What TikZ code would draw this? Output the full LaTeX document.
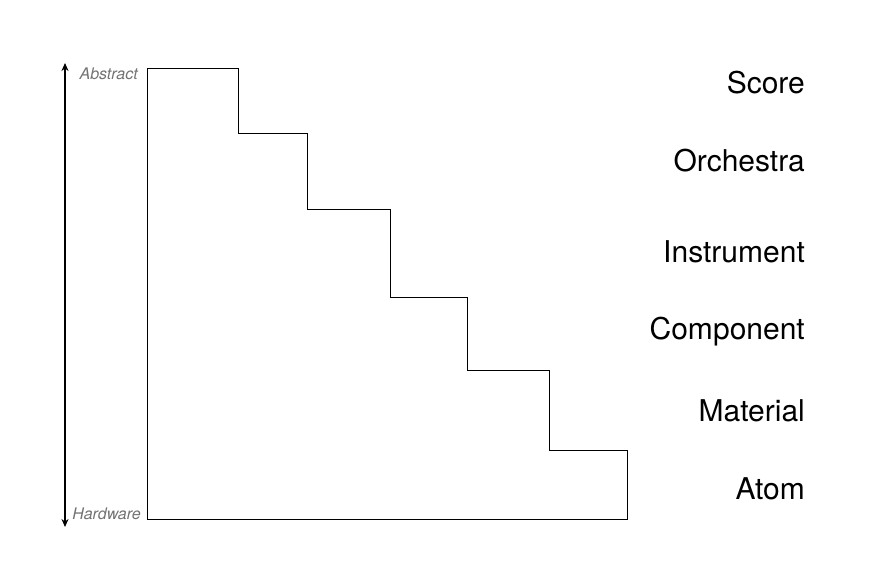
\documentclass[tikz,border=0pt]{standalone}
\usepackage{fontspec}
\setmainfont{TeX Gyre Heros}
\usetikzlibrary{arrows.meta}
\begin{document}
\begin{tikzpicture}[x=1pt,y=-1pt,
  level/.style={anchor=base east,inner sep=0pt,font=\fontsize{30}{30}\selectfont},
  axislabel/.style={anchor=base east,text=black!55,font=\itshape\fontsize{16}{16}\selectfont,inner sep=0pt},
  stairs/.style={draw=black,line width=0.9pt,line join=miter}]
\useasboundingbox (0,0) rectangle (869,562);
% staircase of abstraction levels
\draw[stairs] (147,68) -- (238,68) -- (238,133) -- (307,133) -- (307,209)
  -- (390,209) -- (390,297) -- (467,297) -- (467,370) -- (549,370)
  -- (549,450) -- (627,450) -- (627,519) -- (147,519) -- cycle;
% vertical axis
\coordinate (top) at (65,63);
\coordinate (bot) at (65,527);
\draw[line width=1.8pt,{Stealth[length=8pt,width=7pt]}-{Stealth[length=8pt,width=7pt]}] (top) -- (bot);
\node[axislabel] (abs) at (138,79) {Abstract};
\node[axislabel] (hw) at (141,519) {Hardware};
% level names
\node[level] (score) at (805,93) {Score};
\node[level] (orch) at (805,171) {Orchestra};
\node[level] (inst) at (805,262) {Instrument};
\node[level] (comp) at (805,339) {Component};
\node[level] (mat) at (805,421) {Material};
\node[level] (atom) at (805,499) {Atom};
\end{tikzpicture}
\end{document}
